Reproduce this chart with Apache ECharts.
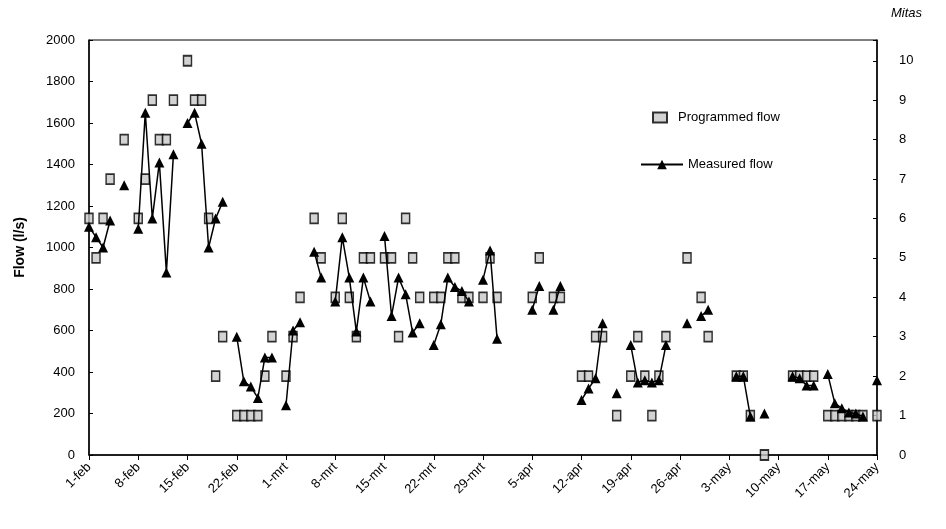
<!DOCTYPE html>
<html>
<head>
<meta charset="utf-8">
<script src="https://cdn.jsdelivr.net/npm/echarts@6/dist/echarts.min.js"></script>
<style>
html,body{margin:0;padding:0;background:#fff;}
#chart{width:946px;height:529px;}
</style>
</head>
<body>
<div id="chart"></div>
<script>
// Month names and lengths for the daily category axis (1-feb .. 24-may)
var monthNames = ['feb', 'mrt', 'apr', 'may'];
var monthDays = [28, 31, 30, 24];

// Programmed flow (l/s): day index from 1-feb, value
var programmedDays = [0,1,2,3,5,7,8,9,10,11,12,14,15,16,17,
  18,19,21,22,23,24,25,26,28,29,30,
  32,33,35,36,37,38,39,40,42,43,44,45,46,47,49,50,51,52,53,54,56,57,58,
  63,64,66,67,
  70,71,72,73,75,77,78,79,80,81,82,
  85,87,88,
  92,93,94,96,
  100,101,102,103,
  105,106,107,108,109,110,112];
var programmedFlow = [1140,950,1140,1330,1520,1140,1330,1710,1520,1520,1710,1900,1710,1710,1140,
  380,570,190,190,190,190,380,570,380,570,760,
  1140,950,760,1140,760,570,950,950,950,950,570,1140,950,760,760,760,950,950,760,760,760,950,760,
  760,950,760,760,
  380,380,570,570,190,380,570,380,190,380,570,
  950,760,570,
  380,380,190,0,
  380,380,380,380,
  190,190,190,190,190,190,190];

// Measured flow (l/s): day index from 1-feb, value
var measuredDays = [0,1,2,3,5,7,8,9,10,11,12,14,15,16,17,18,19,
  21,22,23,24,25,26,28,29,30,
  32,33,35,36,37,38,39,40,42,43,44,45,46,47,49,50,51,52,53,54,56,57,58,
  63,64,66,67,
  70,71,72,73,75,77,78,79,80,81,82,
  85,87,88,
  92,93,94,96,
  100,101,102,103,
  105,106,107,108,109,110,112];
var measuredFlow = [1100,1050,1000,1130,1300,1090,1650,1140,1410,880,1450,1600,1650,1500,1000,1140,1220,
  570,355,330,275,470,470,240,600,640,
  980,855,740,1050,855,595,855,740,1055,670,855,775,590,635,530,630,855,810,790,740,845,985,560,
  700,815,700,815,
  265,320,370,635,297,530,350,360,350,360,530,
  635,670,700,
  380,380,185,200,
  380,370,335,335,
  390,250,225,205,200,185,360];

var leftTicks = {min: 0, max: 2000, interval: 200};
var rightTicks = {min: 0, max: 2000 / 190, interval: 1};

// Build categories
var categories = [];
for (var m = 0; m < monthNames.length; m++) {
  for (var d = 1; d <= monthDays[m]; d++) categories.push(d + '-' + monthNames[m]);
}
function fill(days, vals) {
  var arr = categories.map(function () { return null; });
  for (var k = 0; k < days.length; k++) arr[days[k]] = vals[k];
  return arr;
}
var progData = fill(programmedDays, programmedFlow);
var measData = fill(measuredDays, measuredFlow);

var font = 'Liberation Sans, Arial, sans-serif';
var chart = echarts.init(document.getElementById('chart'), null, {renderer: 'canvas'});
chart.setOption({
  animation: false,
  backgroundColor: '#fff',
  grid: {left: 89, right: 69, top: 40, bottom: 74, show: true, borderColor: '#000', borderWidth: 1},
  legend: [
    {data: ['Programmed flow'], left: 647, top: 106, itemWidth: 14, itemHeight: 10,
      textStyle: {fontFamily: font, fontSize: 13, color: '#000', padding: [0, 0, 0, 6]}},
    {data: ['Measured flow'], left: 635, top: 153, itemWidth: 42, itemHeight: 12, itemGap: 2,
      textStyle: {fontFamily: font, fontSize: 13, color: '#000'}}
  ],
  xAxis: {
    type: 'category', data: categories, boundaryGap: false,
    axisLine: {lineStyle: {color: '#000', width: 1.5}},
    axisTick: {interval: 6, length: 5, lineStyle: {color: '#000'}},
    axisLabel: {interval: 6, rotate: 45, fontFamily: font, fontSize: 13, color: '#000', margin: 10},
    splitLine: {show: false}
  },
  yAxis: [
    {type: 'value', min: leftTicks.min, max: leftTicks.max, interval: leftTicks.interval,
      name: 'Flow (l/s)', nameLocation: 'middle', nameGap: 62, nameRotate: 90,
      nameTextStyle: {fontFamily: font, fontSize: 14, fontWeight: 'bold', color: '#000'},
      axisLine: {show: true, lineStyle: {color: '#000', width: 1.5}},
      axisTick: {show: true, inside: true, length: 4, lineStyle: {color: '#000'}},
      axisLabel: {fontFamily: font, fontSize: 13, color: '#000', margin: 14,
        formatter: function (v) { return String(v); }},
      splitLine: {show: false}},
    {type: 'value', position: 'right', min: rightTicks.min, max: rightTicks.max, interval: rightTicks.interval,
      name: 'Mitas', nameLocation: 'end', nameGap: 20,
      nameTextStyle: {fontFamily: font, fontSize: 13, fontStyle: 'italic', color: '#000', align: 'left', padding: [0, 0, 0, 14]},
      axisLine: {show: true, lineStyle: {color: '#000', width: 1.5}},
      axisTick: {show: true, inside: true, length: 4, lineStyle: {color: '#000'}},
      axisLabel: {fontFamily: font, fontSize: 13, color: '#000', margin: 22,
        formatter: function (v) { return Math.abs(v - Math.round(v)) < 1e-6 ? String(Math.round(v)) : ''; }},
      splitLine: {show: false}}
  ],
  series: [
    {name: 'Programmed flow', type: 'scatter', yAxisIndex: 0, data: progData,
      symbol: 'rect', symbolSize: [8, 10],
      itemStyle: {color: '#c8c8c8', borderColor: '#000', borderWidth: 1.6}, z: 2},
    {name: 'Measured flow', type: 'line', yAxisIndex: 0, data: measData, connectNulls: false,
      symbol: 'triangle', symbolSize: 10, showAllSymbol: true,
      lineStyle: {color: '#000', width: 1.5}, itemStyle: {color: '#000'}, z: 3}
  ]
});
</script>
</body>
</html>
